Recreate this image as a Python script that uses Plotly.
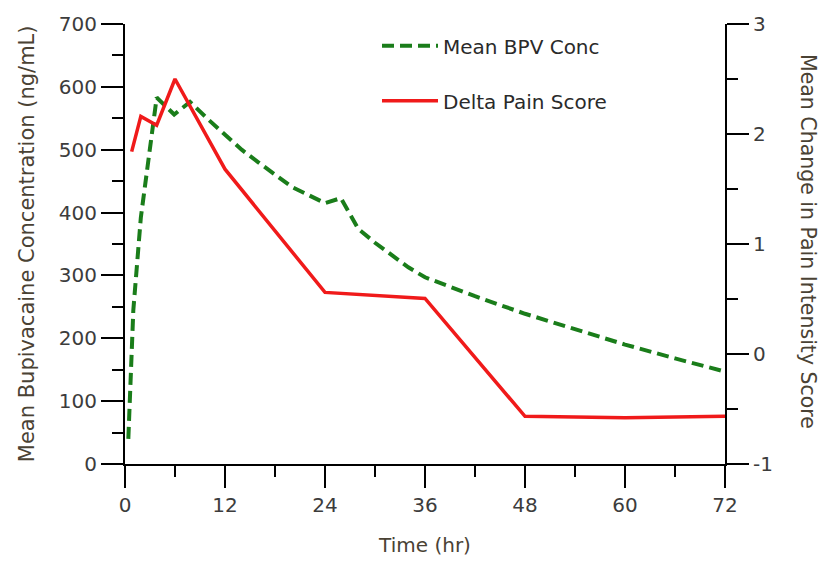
import plotly.graph_objects as go

# Mean bupivacaine concentration (left axis)
conc_time = [0.4, 1.0, 1.9, 3.8, 5.9, 7.8, 10, 12, 14, 16, 18, 20, 22, 24, 25.9, 28,
             30, 32, 34, 36, 42, 48, 54, 60, 66, 72]
conc_vals = [40, 245, 392, 583, 556, 576, 548, 523, 500, 480, 460, 441, 428, 415, 423, 374,
             352, 332, 313, 297, 267, 239, 214, 190, 168, 147]

# Delta pain score (right axis)
pain_time = [0.8, 1.9, 3.8, 6.0, 12, 24, 36, 48, 60, 72]
pain_vals = [1.84, 2.16, 2.08, 2.50, 1.68, 0.56, 0.505, -0.567, -0.58, -0.567]

x_ticks = [0, 12, 24, 36, 48, 60, 72]
y_ticks = [0, 100, 200, 300, 400, 500, 600, 700]
y2_ticks = [-1, 0, 1, 2, 3]
y2_labels = ["-1", "0", "1", "2", "3"]

FONT = "DejaVu Sans"
TICK_COLOR = "#3c3c3c"
TITLE_COLOR = "#4a4234"

fig = go.Figure()
fig.add_trace(go.Scatter(
    x=conc_time, y=conc_vals, name="Mean BPV Conc", mode="lines",
    line=dict(color="#1a7d1a", width=4, dash="12px,6px"),
    legendgroup="a", yaxis="y"))
fig.add_trace(go.Scatter(
    x=pain_time, y=pain_vals, name="Delta Pain Score", mode="lines",
    line=dict(color="#f01a1a", width=3.5),
    legendgroup="b", yaxis="y2"))

axis_common = dict(showline=True, linecolor="black", linewidth=2,
                   ticks="outside", ticklen=22, tickwidth=2, tickcolor="black",
                   showgrid=False, zeroline=False,
                   tickfont=dict(family=FONT, size=20, color=TICK_COLOR))

fig.update_layout(
    width=828, height=568, autosize=False,
    margin=dict(l=125, r=103, t=22, b=104),
    plot_bgcolor="white", paper_bgcolor="white",
    font=dict(family=FONT),
    xaxis=dict(range=[0, 72], tickvals=x_ticks, **axis_common,
               minor=dict(dtick=6, tick0=0, ticks="outside", ticklen=11,
                          tickwidth=2, tickcolor="black"),
               title=dict(text="Time (hr)", standoff=22,
                          font=dict(family=FONT, size=20, color=TITLE_COLOR))),
    yaxis=dict(range=[0, 700], tickvals=y_ticks, **axis_common,
               minor=dict(dtick=50, tick0=0, ticks="outside", ticklen=11,
                          tickwidth=2, tickcolor="black")),
    yaxis2=dict(range=[-1, 3], tickvals=y2_ticks, ticktext=y2_labels,
                overlaying="y", side="right", **axis_common,
                minor=dict(dtick=0.5, tick0=0, ticks="outside", ticklen=11,
                           tickwidth=2, tickcolor="black")),
    legend=dict(x=0.42, y=0.995, xanchor="left", yanchor="top",
                bgcolor="rgba(255,255,255,0)", tracegroupgap=26, itemwidth=56,
                font=dict(family=FONT, size=20, color="#2a2a2a")),
    showlegend=True,
    annotations=[
        dict(text="Mean Bupivacaine Concentration (ng/mL)", textangle=-90,
             xref="paper", yref="paper", x=-0.163, y=0.5,
             xanchor="center", yanchor="middle", showarrow=False,
             font=dict(family=FONT, size=21, color=TITLE_COLOR)),
        dict(text="Mean Change in Pain Intensity Score", textangle=90,
             xref="paper", yref="paper", x=1.138, y=0.505,
             xanchor="center", yanchor="middle", showarrow=False,
             font=dict(family=FONT, size=20.5, color=TITLE_COLOR)),
    ],
)

fig.write_html("out.html")
